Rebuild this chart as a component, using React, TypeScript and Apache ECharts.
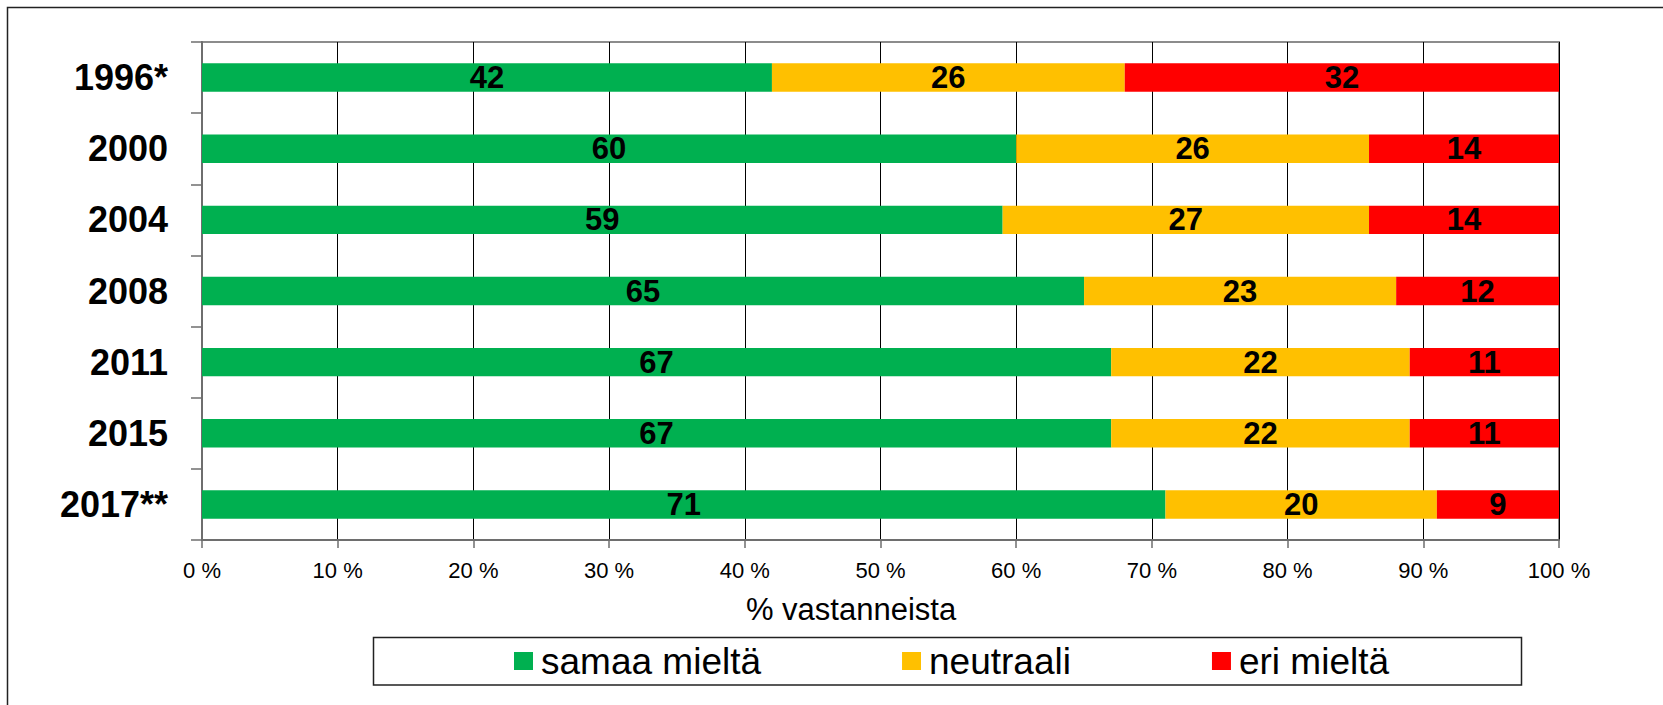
import React, { useEffect, useRef } from "react";
import * as echarts from "echarts";

const categories = ["1996*", "2000", "2004", "2008", "2011", "2015", "2017**"];
const samaaMielta = [42, 60, 59, 65, 67, 67, 71];
const neutraali = [26, 26, 27, 23, 22, 22, 20];
const eriMielta = [32, 14, 14, 12, 11, 11, 9];
const seriesNames = ["samaa mieltä", "neutraali", "eri mieltä"];
const seriesColors = ["#00B050", "#FFC000", "#FF0000"];
const xTitle = "% vastanneista";

const FONT = "'Liberation Sans', Arial, sans-serif";

export default function App() {
  const ref = useRef<HTMLDivElement>(null);

  useEffect(() => {
    document.body.style.margin = "0";
    if (!ref.current) return;
    const chart = echarts.init(ref.current, undefined, { renderer: "svg" });
    const values = [samaaMielta, neutraali, eriMielta];
    chart.setOption({
      animation: false,
      backgroundColor: "#ffffff",
      textStyle: { fontFamily: FONT },
      grid: {
        left: 202,
        top: 42,
        right: 104,
        bottom: 165,
        show: true,
        borderColor: "#8c8c8c",
        borderWidth: 2,
      },
      legend: {
        left: 514,
        top: 641,
        padding: 0,
        itemWidth: 19,
        itemHeight: 18,
        itemGap: 141,
        icon: "rect",
        textStyle: {
          fontFamily: FONT,
          fontSize: 37,
          color: "#000",
          lineHeight: 40,
          padding: [0, 0, 0, 3],
        },
        data: seriesNames,
      },
      xAxis: {
        type: "value",
        min: 0,
        max: 100,
        interval: 10,
        axisLine: { show: true, lineStyle: { color: "#6e6e6e", width: 2 } },
        axisTick: { show: true, length: 8, lineStyle: { color: "#6e6e6e", width: 1.5 } },
        splitLine: { show: true, lineStyle: { color: "#000000", width: 1 } },
        axisLabel: {
          margin: 19,
          fontSize: 22,
          fontFamily: FONT,
          color: "#000",
          formatter: "{value} %",
        },
      },
      yAxis: {
        type: "category",
        data: categories,
        inverse: true,
        axisLine: { show: true, lineStyle: { color: "#6e6e6e", width: 2 } },
        axisTick: { show: true, length: 11, lineStyle: { color: "#6e6e6e", width: 1.5 } },
        axisLabel: {
          margin: 34,
          fontSize: 36,
          fontWeight: "bold",
          fontFamily: FONT,
          color: "#000",
        },
      },
      graphic: [
        {
          type: "rect",
          shape: { x: 7.5, y: 7.5, width: 1800, height: 900 },
          style: { fill: "none", stroke: "#222222", lineWidth: 1.5 },
          silent: true,
          z: -1,
        },
        {
          type: "rect",
          shape: { x: 373.5, y: 637.5, width: 1148, height: 47.5 },
          style: { fill: "none", stroke: "#222222", lineWidth: 1.5 },
          silent: true,
        },
        {
          type: "text",
          x: 851,
          y: 609,
          style: {
            text: xTitle,
            fontFamily: FONT,
            fontSize: 31,
            fill: "#000",
            textAlign: "center",
            textVerticalAlign: "middle",
          },
        },
      ],
      series: seriesNames.map((name, i) => ({
        name,
        type: "bar",
        stack: "total",
        barWidth: "40%",
        itemStyle: { color: seriesColors[i] },
        label: {
          show: true,
          position: "inside",
          fontSize: 31,
          fontWeight: "bold",
          fontFamily: FONT,
          color: "#000",
        },
        data: values[i],
      })),
    });
    return () => chart.dispose();
  }, []);

  return <div ref={ref} style={{ width: 1663, height: 705 }} />;
}
